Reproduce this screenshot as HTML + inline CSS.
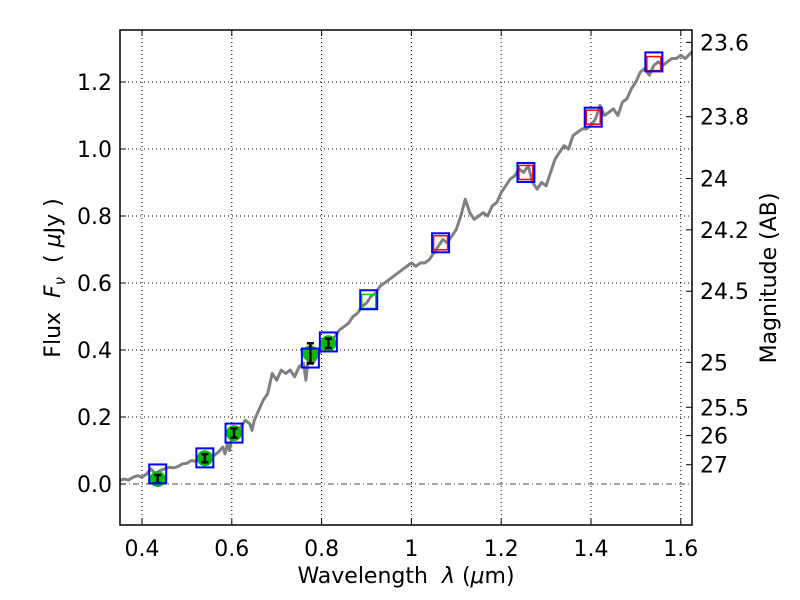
<!DOCTYPE html>
<html><head><meta charset="utf-8"><style>
body{margin:0;background:#fff;}
svg text{font-family:"DejaVu Sans","Liberation Sans",sans-serif;fill:#000;}
</style></head><body>
<svg id="chart" width="800" height="600" xmlns="http://www.w3.org/2000/svg" style="position:absolute;left:0;top:0">
<rect width="800" height="600" fill="#fff"/>
<g id="grid"></g>
<g id="marks"></g>
<g id="axes"></g>
<text x="406" y="583" font-size="22" text-anchor="middle">Wavelength&#160; <tspan font-style="italic">λ</tspan> (<tspan font-style="italic">μ</tspan>m)</text>
<text transform="translate(60,278) rotate(-90)" font-size="22" text-anchor="middle">Flux&#160; <tspan font-style="italic">F</tspan><tspan font-style="italic" font-size="15" dy="5">ν</tspan><tspan dy="-5">&#160; ( </tspan><tspan font-style="italic">μ</tspan>Jy )</text>
<text transform="translate(776,278) rotate(-90)" font-size="22" text-anchor="middle">Magnitude (AB)</text>
</svg>
<script>
const specWave=[0.35,0.36,0.37,0.38,0.39,0.40,0.41,0.42,0.43,0.44,0.45,0.46,0.47,0.48,0.49,0.50,0.51,0.52,0.53,0.54,0.55,0.56,0.57,0.58,0.585,0.59,0.595,0.60,0.61,0.62,0.63,0.64,0.645,0.65,0.66,0.67,0.68,0.69,0.70,0.71,0.72,0.73,0.74,0.75,0.76,0.765,0.77,0.78,0.79,0.80,0.81,0.82,0.83,0.84,0.85,0.86,0.87,0.88,0.89,0.90,0.91,0.92,0.93,0.94,0.95,0.96,0.97,0.98,0.99,1.00,1.01,1.02,1.03,1.04,1.05,1.06,1.07,1.08,1.09,1.10,1.11,1.12,1.13,1.14,1.15,1.16,1.17,1.18,1.19,1.20,1.21,1.22,1.23,1.24,1.25,1.26,1.27,1.28,1.29,1.30,1.31,1.32,1.33,1.34,1.35,1.36,1.37,1.38,1.39,1.40,1.41,1.42,1.43,1.44,1.45,1.46,1.47,1.48,1.49,1.50,1.51,1.52,1.53,1.54,1.55,1.56,1.57,1.58,1.59,1.60,1.61,1.625];
const specFlux=[0.01,0.015,0.012,0.02,0.025,0.02,0.03,0.045,0.03,0.04,0.045,0.05,0.048,0.052,0.06,0.062,0.07,0.068,0.075,0.08,0.088,0.085,0.095,0.11,0.09,0.12,0.10,0.14,0.16,0.17,0.19,0.18,0.16,0.19,0.22,0.25,0.27,0.33,0.31,0.34,0.33,0.34,0.32,0.35,0.36,0.31,0.37,0.36,0.38,0.40,0.42,0.43,0.44,0.46,0.47,0.48,0.50,0.51,0.53,0.54,0.56,0.57,0.59,0.60,0.61,0.62,0.63,0.64,0.65,0.66,0.65,0.66,0.66,0.67,0.69,0.71,0.73,0.72,0.74,0.76,0.80,0.85,0.81,0.79,0.80,0.81,0.80,0.83,0.84,0.87,0.89,0.91,0.92,0.94,0.93,0.95,0.90,0.88,0.90,0.89,0.93,0.97,0.99,1.01,1.00,1.04,1.05,1.06,1.06,1.07,1.09,1.13,1.10,1.11,1.12,1.10,1.14,1.15,1.18,1.20,1.23,1.24,1.22,1.25,1.26,1.25,1.26,1.27,1.27,1.28,1.27,1.29];
const bandWave=[0.435,0.54,0.605,0.775,0.815,0.905,1.065,1.255,1.405,1.54];
const modelFlux=[0.03,0.078,0.152,0.376,0.424,0.55,0.72,0.93,1.095,1.26];
const obsWave=[0.435,0.54,0.605,0.775,0.815];
const obsFlux=[0.015,0.077,0.152,0.39,0.42];
const obsErr=[0.012,0.012,0.014,0.03,0.014];
const innerWave=[0.905,1.065,1.255,1.405,1.54];
const innerFlux=[0.545,0.72,0.93,1.095,1.255];
const innerColor=['#00cc00','red','red','red','red'];
const xTicks=[0.4,0.6,0.8,1.0,1.2,1.4,1.6];
const xTickLabels=['0.4','0.6','0.8','1','1.2','1.4','1.6'];
const yTicks=[0,0.2,0.4,0.6,0.8,1.0,1.2];
const yTickLabels=['0.0','0.2','0.4','0.6','0.8','1.0','1.2'];
const magTicks=[23.6,23.8,24,24.2,24.5,25,25.5,26,27];
const magTickLabels=['23.6','23.8','24','24.2','24.5','25','25.5','26','27'];

const L=120,R=692,T=30,B=525;
const X=v=>142+(v-0.4)*449;
const Y=v=>484-v*335;
const NS='http://www.w3.org/2000/svg';
function mk(tag,attrs,parent){const e=document.createElementNS(NS,tag);for(const k in attrs)e.setAttribute(k,attrs[k]);parent.appendChild(e);return e;}
const grid=document.getElementById('grid'),marks=document.getElementById('marks'),axes=document.getElementById('axes');
xTicks.forEach(v=>{const g=mk('line',{x1:X(v),x2:X(v),y1:T,y2:B,stroke:'#000','stroke-width':1,'stroke-dasharray':'1,3'},grid);

});
yTicks.forEach(v=>{const g=mk('line',{x1:L,x2:R,y1:Y(v),y2:Y(v),stroke:v===0?'#444':'#000','stroke-width':1,'stroke-dasharray':v===0?'6,3,1,3':'1,3'},grid);

});
const sp=mk('polyline',{points:specWave.map((w,i)=>X(w)+','+Y(specFlux[i])).join(' '),fill:'none',stroke:'#808080','stroke-width':3,'stroke-linejoin':'round'},marks);


obsWave.forEach((w,i)=>{
 const c=mk('circle',{cx:X(w),cy:Y(obsFlux[i]),r:8,fill:'#00bb00'},marks);
 
 
 const y1=Y(obsFlux[i]+obsErr[i]),y2=Y(obsFlux[i]-obsErr[i]),x=X(w);
 const e=mk('path',{d:`M${x},${y1}V${y2}M${x-3.5},${y1}H${x+3.5}M${x-3.5},${y2}H${x+3.5}`,stroke:'#000','stroke-width':2.5,fill:'none'},marks);
 
 
});
innerWave.forEach((w,i)=>{
 const s=mk('rect',{x:X(w)-7,y:Y(innerFlux[i])-7,width:14,height:14,fill:'none',stroke:innerColor[i],'stroke-width':1.5},marks);
 
 
});
bandWave.forEach((w,i)=>{
 const s=mk('rect',{x:X(w)-8.5,y:Y(modelFlux[i])-9.5,width:17,height:19,fill:'none',stroke:'#0000ff','stroke-width':2},marks);
 
 
});
const f=mk('rect',{x:L,y:T,width:R-L,height:B-T,fill:'none',stroke:'#000','stroke-width':1.5},axes);


xTicks.forEach((v,i)=>{
 mk('line',{x1:X(v),x2:X(v),y1:B,y2:B-6,stroke:'#000'},axes);
 mk('line',{x1:X(v),x2:X(v),y1:T,y2:T+6,stroke:'#000'},axes);
 const t=mk('text',{x:X(v),y:B+31,'font-size':22,'text-anchor':'middle'},axes);t.textContent=xTickLabels[i];
 
 
});
yTicks.forEach((v,i)=>{
 mk('line',{x1:L,x2:L+6,y1:Y(v),y2:Y(v),stroke:'#000'},axes);
 const t=mk('text',{x:L-8,y:Y(v)+8,'font-size':22,'text-anchor':'end'},axes);t.textContent=yTickLabels[i];
 
 
});
magTicks.forEach((m,i)=>{
 const y=Y(Math.pow(10,(23.9-m)/2.5));
 mk('line',{x1:R,x2:R-6,y1:y,y2:y,stroke:'#000'},axes);
 const t=mk('text',{x:R+8,y:y+8,'font-size':22},axes);t.textContent=magTickLabels[i];
 
 
});
</script>
</body></html>
